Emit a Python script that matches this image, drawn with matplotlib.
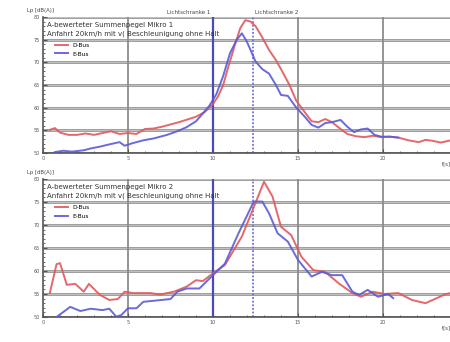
import matplotlib

matplotlib.use("Agg")

import matplotlib.pyplot as plt
import numpy as np
from matplotlib.ticker import MultipleLocator

# Mikro 1: time [s] and level [dB(A)]
t_d1 = [0.4, 0.7, 1.0, 1.5, 2.0, 2.5, 3.0, 3.5, 4.0, 4.5, 5.0, 5.5, 6.0, 6.5, 7.0,
        7.5, 8.0, 8.5, 9.0, 9.5, 10.0, 10.3, 10.6, 10.9, 11.3, 11.6, 11.9, 12.2,
        12.5, 12.9, 13.3, 13.7, 14.0, 14.5, 14.9, 15.3, 15.8, 16.2, 16.6, 17.0,
        17.4, 17.9, 18.4, 18.9, 19.4, 19.9, 20.4, 20.9, 21.5, 22.1, 22.5, 22.9,
        23.4, 24.0]
lp_d1 = [55.1, 55.5, 54.5, 54.0, 54.0, 54.3, 54.0, 54.4, 54.8, 54.2, 54.4, 54.2,
         55.3, 55.4, 55.8, 56.3, 56.8, 57.4, 58.0, 59.0, 60.8, 62.5, 65.0, 69.0,
         74.0, 77.5, 79.3, 79.0, 78.0, 75.5, 72.7, 70.5, 68.5, 65.0, 61.5, 59.5,
         57.0, 56.8, 57.5, 56.8, 55.6, 54.2, 53.7, 53.5, 53.8, 53.5, 53.6, 53.4,
         52.8, 52.4, 52.9, 52.7, 52.3, 52.8]
t_e1 = [0.7, 1.2, 1.7, 2.4, 2.8, 3.35, 3.9, 4.5, 4.8, 5.3, 5.9, 6.5, 7.3, 7.9,
        8.45, 9.0, 9.4, 9.8, 10.2, 10.6, 11.0, 11.4, 11.7, 12.0, 12.5, 12.9, 13.3,
        13.7, 14.0, 14.4, 14.9, 15.4, 15.8, 16.2, 16.6, 17.0, 17.5, 17.9, 18.3,
        18.7, 19.1, 19.5, 19.9, 20.4, 20.9]
lp_e1 = [50.2, 50.5, 50.3, 50.6, 51.0, 51.4, 51.9, 52.4, 51.6, 52.2, 52.8, 53.2,
         54.0, 54.8, 55.7, 57.0, 58.7, 60.5, 63.0, 67.0, 72.0, 75.0, 76.4, 74.5,
         70.2, 68.5, 67.5, 65.0, 62.8, 62.6, 60.0, 58.0, 56.2, 55.6, 56.6, 56.8,
         57.3, 55.8, 54.6, 55.2, 55.4, 54.0, 53.6, 53.6, 53.4]

# Mikro 2
t_d2 = [0.4, 0.8, 1.0, 1.4, 1.9, 2.4, 2.7, 3.35, 3.9, 4.4, 4.8, 5.3, 6.3, 6.9,
        7.7, 8.45, 9.0, 9.4, 10.0, 10.7, 11.7, 12.5, 13.0, 13.5, 14.0, 14.6, 15.2,
        15.9, 16.6, 17.4, 18.2, 18.7, 19.4, 20.1, 20.9, 21.7, 22.5, 23.1, 23.7,
        24.0]
lp_d2 = [55.2, 61.5, 61.7, 57.0, 57.2, 55.5, 57.2, 54.8, 53.7, 53.9, 55.5, 55.2,
         55.2, 54.9, 55.5, 56.6, 58.0, 57.8, 59.5, 61.3, 67.5, 74.8, 79.4, 76.2,
         69.6, 67.8, 63.1, 60.2, 59.8, 57.3, 55.2, 54.4, 55.5, 55.0, 55.2, 53.7,
         53.0, 54.0, 55.0, 55.2]
t_e2 = [0.8, 1.6, 2.2, 2.8, 3.5, 3.9, 4.3, 4.6, 5.0, 5.5, 5.9, 6.7, 7.5, 7.9,
        8.45, 9.2, 10.0, 10.7, 11.5, 12.4, 12.9, 13.3, 13.8, 14.4, 15.0, 15.8,
        16.4, 17.0, 17.6, 18.2, 18.6, 19.1, 19.7, 20.3, 20.6]
lp_e2 = [50.0, 52.2, 51.3, 51.8, 51.5, 51.8, 50.1, 50.4, 51.9, 51.9, 53.3, 53.6,
         53.9, 55.5, 56.2, 56.2, 59.1, 61.6, 68.2, 75.1, 75.1, 72.5, 68.2, 66.4,
         62.4, 58.8, 59.8, 59.1, 59.1, 55.5, 54.8, 55.9, 54.4, 55.0, 54.1]

titles = ["A-bewerteter Summenpegel Mikro 1", "A-bewerteter Summenpegel Mikro 2"]
subtitle = "Anfahrt 20km/h mit v( Beschleunigung ohne Halt"
series_labels = ["D-Bus", "E-Bus"]
x_ticks = [0, 5, 10, 15, 20]
y_ticks = [50, 55, 60, 65, 70, 75, 80]
lichtschranke = [10.0, 12.35]

RED = "#e0585c"
BLUE = "#5a5ad8"
GRID = "#8c8c8c"

fig = plt.figure(figsize=(4.5, 3.42), dpi=100)
fig.patch.set_facecolor("white")
axes = [
    fig.add_axes([43 / 450, 1 - 153 / 342, 408 / 450, 136 / 342]),
    fig.add_axes([43 / 450, 1 - 317 / 342, 408 / 450, 138 / 342]),
]
data = [((t_d1, lp_d1), (t_e1, lp_e1)), ((t_d2, lp_d2), (t_e2, lp_e2))]

for k, ax in enumerate(axes):
    (td, ld), (te, le) = data[k]
    ax.set_xlim(0, 24)
    ax.set_ylim(50, 80)
    for y in y_ticks:
        ax.axhline(y, color=GRID, lw=1.9, zorder=1)
        ax.axhline(y, color="#d8d8d8", lw=0.5, zorder=1)
    for x in x_ticks[1:]:
        if x != 10:
            ax.axvline(x, color=GRID, lw=1.3, zorder=1)
    ax.axvline(lichtschranke[0], color="#4a4ac0", lw=1.6, zorder=2)
    ax.axvline(lichtschranke[1], color="#6f6fe0", lw=1.3, ls=(0, (1, 1)), zorder=2)

    ax.plot(td, ld, color=RED, lw=1.4, alpha=0.9, label=series_labels[0], zorder=3)
    ax.plot(te, le, color=BLUE, lw=1.4, alpha=0.9, label=series_labels[1], zorder=3)

    ax.set_xticks(x_ticks)
    ax.set_yticks(y_ticks)
    ax.xaxis.set_minor_locator(MultipleLocator(1))
    ax.yaxis.set_minor_locator(MultipleLocator(1))
    ax.tick_params(which="both", direction="in", labelsize=3.5, colors="#555555",
                   pad=2)
    ax.tick_params(which="major", length=3)
    ax.tick_params(which="minor", length=1.5)
    for name, spine in ax.spines.items():
        spine.set_visible(name in ("left", "bottom"))
        spine.set_color("#555555")
        spine.set_linewidth(1.2)

    ax.text(0.01, 0.94, titles[k], transform=ax.transAxes, fontsize=5.0,
            color="#333333", va="center")
    ax.text(0.01, 0.88, subtitle, transform=ax.transAxes, fontsize=5.0,
            color="#333333", va="center")
    ax.text(-0.04, 1.03, "Lp [dB(A)]", transform=ax.transAxes, fontsize=3.8,
            color="#444444", va="bottom")
    ax.text(1.0, -0.06, "t[s]", transform=ax.transAxes, fontsize=3.8,
            color="#444444", ha="right", va="top")
    ax.legend(loc="upper left", bbox_to_anchor=(0.02, 0.84), frameon=False,
              fontsize=4.2, handlelength=2.2, labelspacing=0.6, borderpad=0.2)

axes[0].text(lichtschranke[0] - 0.15, 80.4, "Lichtschranke 1", fontsize=4,
             color="#444444", ha="right", va="bottom")
axes[0].text(lichtschranke[1] + 0.15, 80.4, "Lichtschranke 2", fontsize=4,
             color="#444444", ha="left", va="bottom")

fig.savefig("out.png", dpi=100, facecolor="white")
